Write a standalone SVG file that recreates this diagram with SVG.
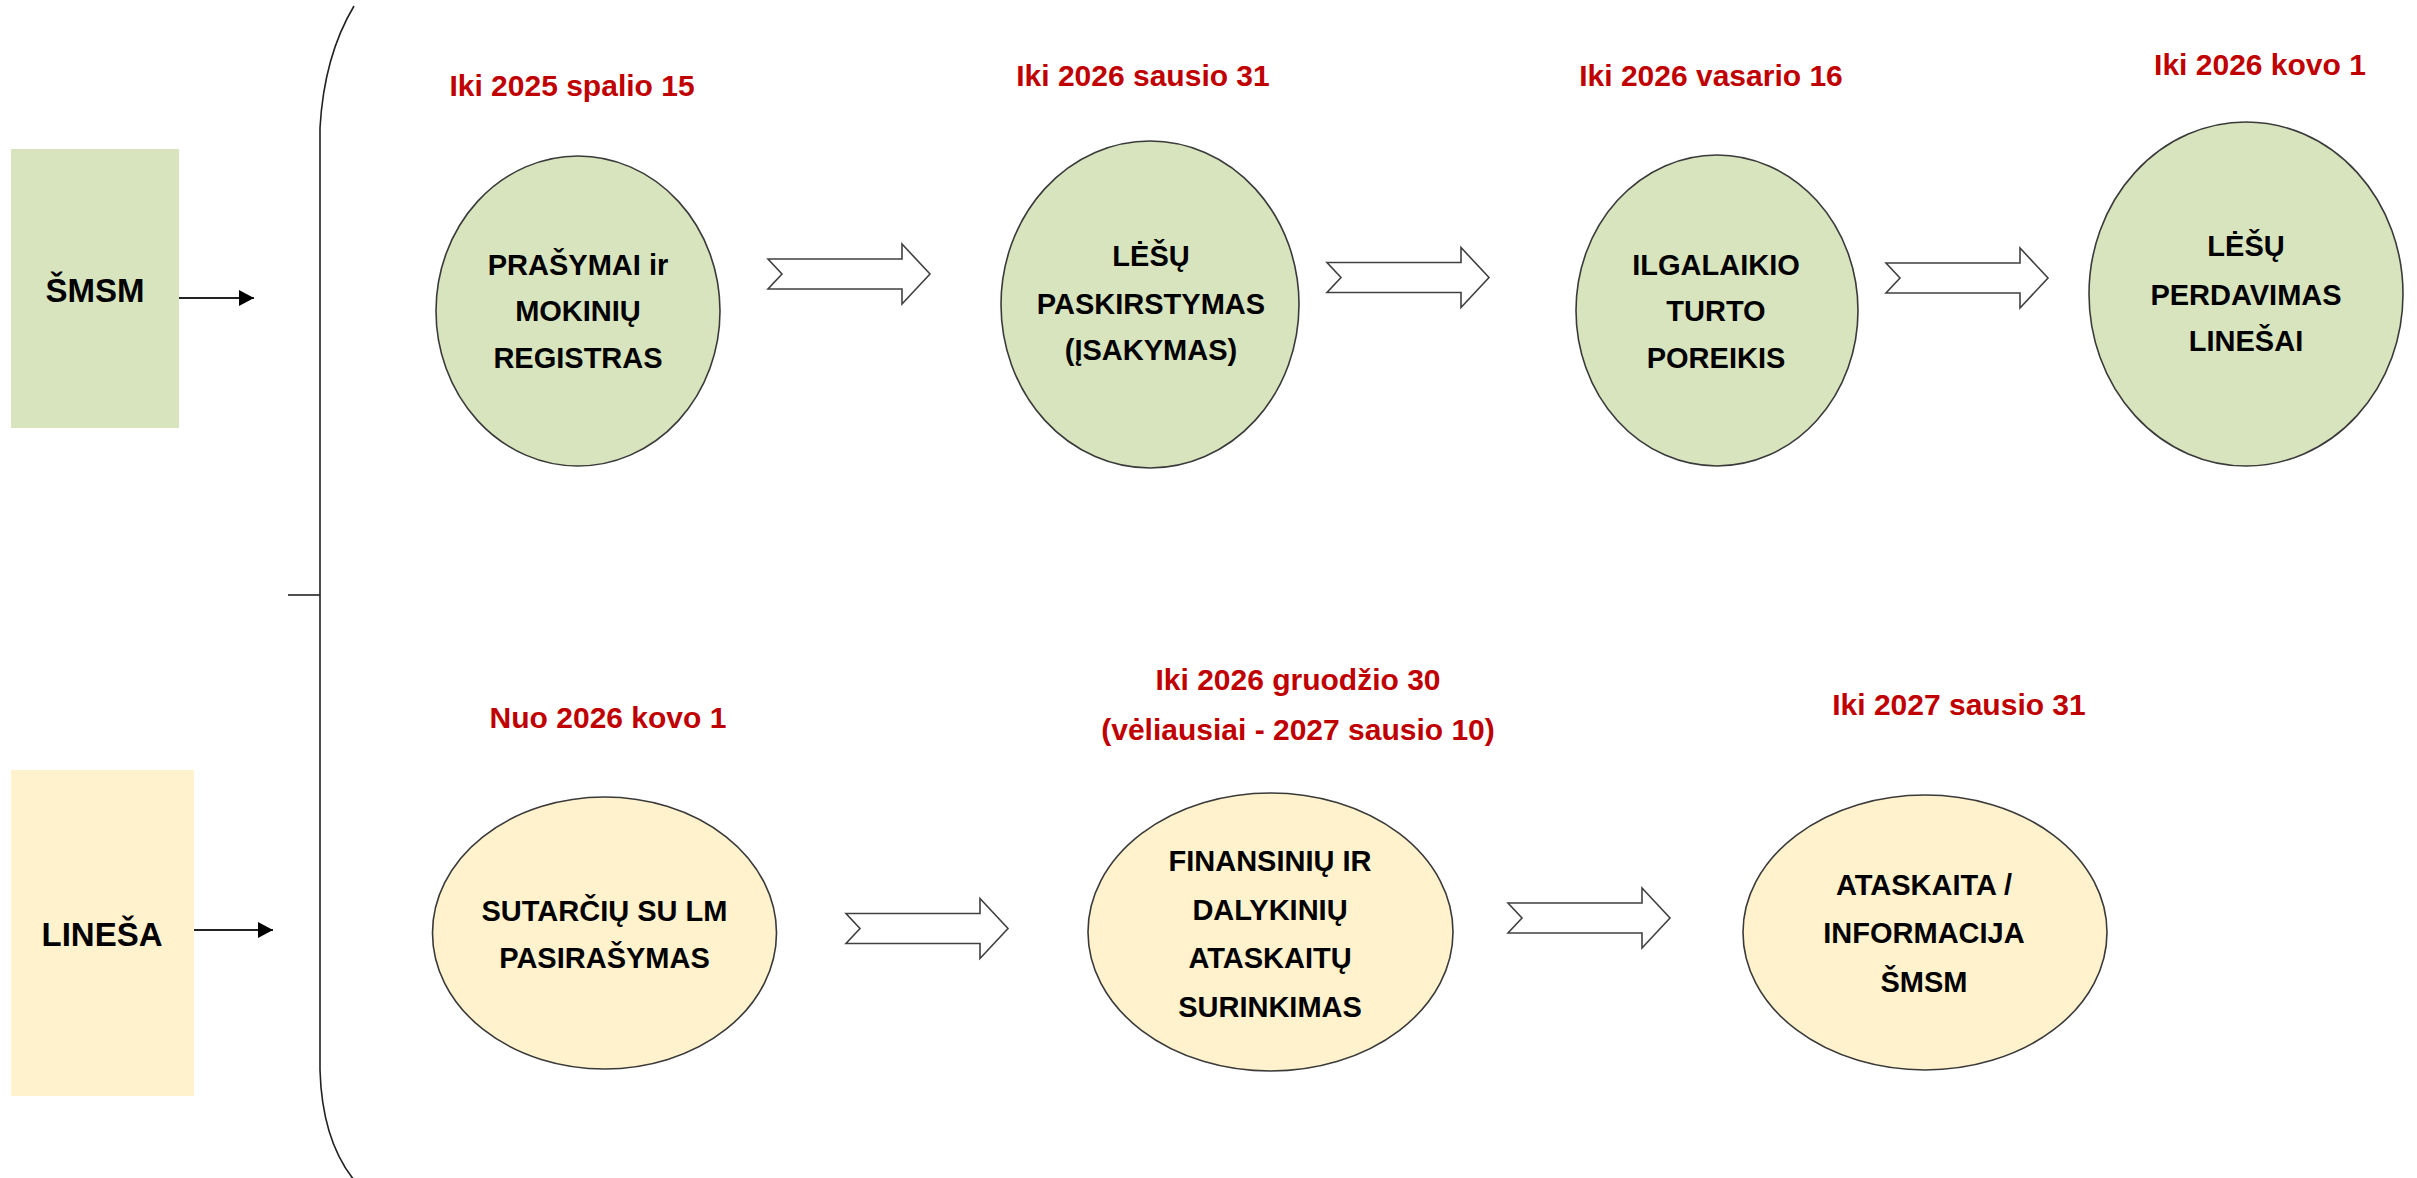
<svg xmlns="http://www.w3.org/2000/svg" width="2417" height="1178" viewBox="0 0 2417 1178">
<style>
.node{stroke:#3a3a3a;stroke-width:1.6}
.g{fill:#d7e4bd}
.y{fill:#fff2cc}
.lbl{font-family:"Liberation Sans",Arial,sans-serif;font-weight:bold;font-size:29px;fill:#000;text-anchor:middle}
.side{font-family:"Liberation Sans",Arial,sans-serif;font-weight:bold;font-size:33px;fill:#000;text-anchor:middle}
.date{font-family:"Liberation Sans",Arial,sans-serif;font-weight:bold;font-size:30px;fill:#c00000;text-anchor:middle}
.blk{fill:#fff;stroke:#404040;stroke-width:1.6;stroke-linejoin:miter}
.thin{fill:none;stroke:#222;stroke-width:1.6}
</style>
<defs>
<marker id="ah" viewBox="0 0 15 16" refX="15" refY="8" markerWidth="15" markerHeight="16" markerUnits="userSpaceOnUse" orient="auto">
<path d="M0,0 L15,8 L0,16 Z" fill="#000"/>
</marker>
<path id="blockArrow" d="M0,-15 L134,-15 L134,-30 L162,0 L134,30 L134,15 L0,15 L14,0 Z"/>
</defs>
<rect width="2417" height="1178" fill="#fff"/>

<g id="bracket">
<path class="thin" d="M354,6 Q324,56 320,128 L320,1070 Q322,1140 354,1180"/>
<line class="thin" x1="288" y1="595" x2="320" y2="595"/>
</g>

<g id="smsm">
<rect x="11" y="149" width="168" height="279" fill="#d7e4bd"/>
<text class="side" x="95" y="302">ŠMSM</text>
</g>
<g id="linesa">
<rect x="11" y="770" width="183" height="326" fill="#fff2cc"/>
<text class="side" x="102" y="946">LINEŠA</text>
</g>

<g id="connectors">
<line x1="179" y1="298" x2="254" y2="298" stroke="#222" stroke-width="1.8" marker-end="url(#ah)"/>
<line x1="194" y1="930" x2="273" y2="930" stroke="#222" stroke-width="1.8" marker-end="url(#ah)"/>
<use href="#blockArrow" class="blk" transform="translate(768,274)"/>
<use href="#blockArrow" class="blk" transform="translate(1327,277.5)"/>
<use href="#blockArrow" class="blk" transform="translate(1886,278)"/>
<use href="#blockArrow" class="blk" transform="translate(846,928.5)"/>
<use href="#blockArrow" class="blk" transform="translate(1508,918)"/>
</g>

<g id="n1">
<text class="date" x="572" y="96">Iki 2025 spalio 15</text>
<ellipse class="node g" cx="578" cy="311" rx="142" ry="155"/>
<text class="lbl" x="578" y="275">PRAŠYMAI ir</text>
<text class="lbl" x="578" y="321">MOKINIŲ</text>
<text class="lbl" x="578" y="368">REGISTRAS</text>
</g>
<g id="n2">
<text class="date" x="1143" y="86">Iki 2026 sausio 31</text>
<ellipse class="node g" cx="1150" cy="304.5" rx="149" ry="163.5"/>
<text class="lbl" x="1151" y="266">LĖŠŲ</text>
<text class="lbl" x="1151" y="314">PASKIRSTYMAS</text>
<text class="lbl" x="1151" y="360">(ĮSAKYMAS)</text>
</g>
<g id="n3">
<text class="date" x="1711" y="86">Iki 2026 vasario 16</text>
<ellipse class="node g" cx="1717" cy="310.5" rx="141" ry="155.5"/>
<text class="lbl" x="1716" y="275">ILGALAIKIO</text>
<text class="lbl" x="1716" y="321">TURTO</text>
<text class="lbl" x="1716" y="368">POREIKIS</text>
</g>
<g id="n4">
<text class="date" x="2260" y="75">Iki 2026 kovo 1</text>
<ellipse class="node g" cx="2246" cy="294" rx="157" ry="172"/>
<text class="lbl" x="2246" y="256">LĖŠŲ</text>
<text class="lbl" x="2246" y="305">PERDAVIMAS</text>
<text class="lbl" x="2246" y="351">LINEŠAI</text>
</g>
<g id="n5">
<text class="date" x="608" y="728">Nuo 2026 kovo 1</text>
<ellipse class="node y" cx="604.5" cy="933" rx="172" ry="136"/>
<text class="lbl" x="604.5" y="921">SUTARČIŲ SU LM</text>
<text class="lbl" x="604.5" y="968">PASIRAŠYMAS</text>
</g>
<g id="n6">
<text class="date" x="1298" y="690">Iki 2026 gruodžio 30</text>
<text class="date" x="1298" y="740">(vėliausiai - 2027 sausio 10)</text>
<ellipse class="node y" cx="1270.5" cy="932" rx="182.5" ry="139"/>
<text class="lbl" x="1270" y="871">FINANSINIŲ IR</text>
<text class="lbl" x="1270" y="920">DALYKINIŲ</text>
<text class="lbl" x="1270" y="968">ATASKAITŲ</text>
<text class="lbl" x="1270" y="1017">SURINKIMAS</text>
</g>
<g id="n7">
<text class="date" x="1959" y="715">Iki 2027 sausio 31</text>
<ellipse class="node y" cx="1925" cy="932.5" rx="182" ry="137.5"/>
<text class="lbl" x="1924" y="895">ATASKAITA /</text>
<text class="lbl" x="1924" y="943">INFORMACIJA</text>
<text class="lbl" x="1924" y="992">ŠMSM</text>
</g>
</svg>
